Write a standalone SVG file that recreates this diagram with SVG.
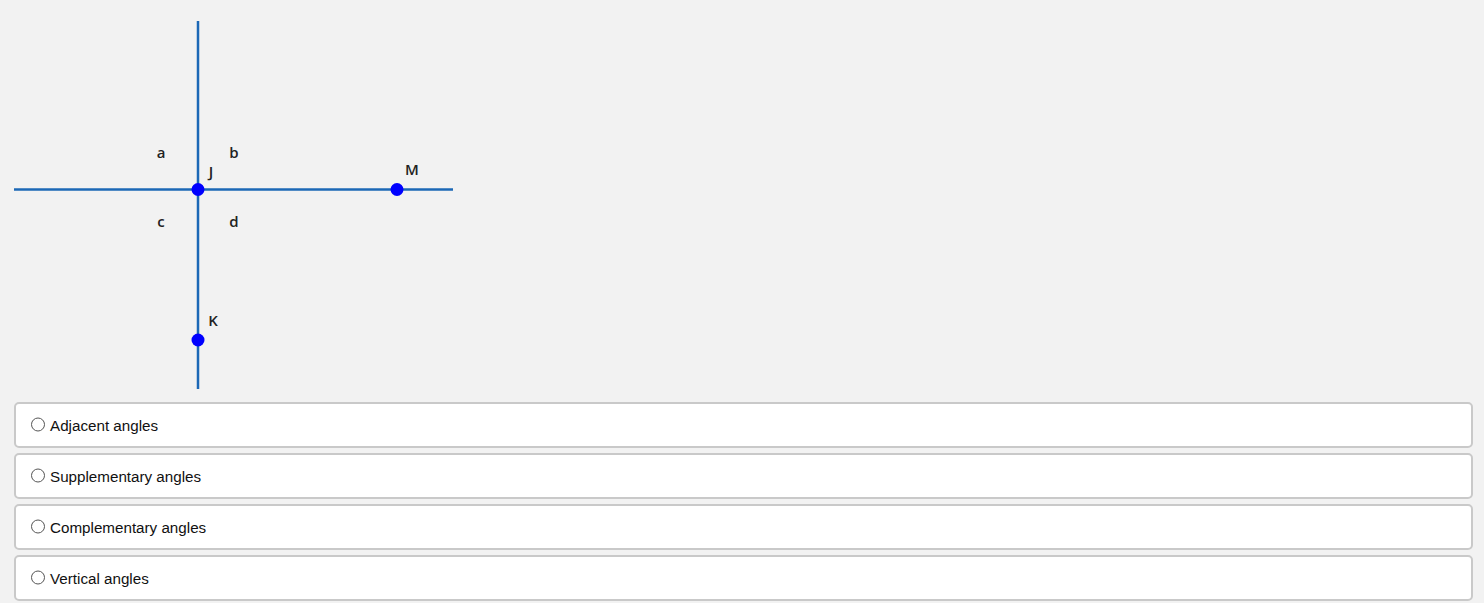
<svg xmlns="http://www.w3.org/2000/svg" width="1484" height="603" viewBox="0 0 1484 603">
<style>
.ln{stroke:#1c68b6;stroke-width:2.5;fill:none}
.pt{fill:#0000ff}
.lb{font-family:"Open Sans","Liberation Sans",sans-serif;font-weight:600;font-size:15px;fill:#222;text-anchor:middle}
.box{fill:#ffffff;stroke:#c9c9c9;stroke-width:2}
.rd{fill:#ffffff;stroke:#555;stroke-width:1}
.op{font-family:"Liberation Sans",Arial,sans-serif;font-size:15.2px;fill:#111}
</style>
<rect width="1484" height="603" fill="#f2f2f2"/>
<g id="connectors">
<line class="ln" x1="198" y1="21" x2="198" y2="389"/>
<line class="ln" x1="14" y1="189.5" x2="453" y2="189.5"/>
</g>
<g id="labels">
<text class="lb" x="161" y="158">a</text>
<text class="lb" x="234" y="158">b</text>
<text class="lb" x="161" y="227">c</text>
<text class="lb" x="234" y="227">d</text>
</g>
<g id="J"><circle class="pt" cx="198" cy="189.5" r="6.5"/><text class="lb" x="211" y="177">J</text></g>
<g id="M"><circle class="pt" cx="397" cy="189.5" r="6.5"/><text class="lb" x="412" y="175">M</text></g>
<g id="K"><circle class="pt" cx="198" cy="340" r="6.5"/><text class="lb" x="213" y="326">K</text></g>
<g id="opt1"><rect class="box" x="15" y="403" width="1457" height="44" rx="4"/><circle class="rd" cx="38" cy="424.5" r="6.5"/><text class="op" x="50" y="431">Adjacent angles</text></g>
<g id="opt2"><rect class="box" x="15" y="454" width="1457" height="44" rx="4"/><circle class="rd" cx="38" cy="475.5" r="6.5"/><text class="op" x="50" y="482">Supplementary angles</text></g>
<g id="opt3"><rect class="box" x="15" y="505" width="1457" height="44" rx="4"/><circle class="rd" cx="38" cy="526.5" r="6.5"/><text class="op" x="50" y="533">Complementary angles</text></g>
<g id="opt4"><rect class="box" x="15" y="556" width="1457" height="44" rx="4"/><circle class="rd" cx="38" cy="577.5" r="6.5"/><text class="op" x="50" y="584">Vertical angles</text></g>
</svg>
